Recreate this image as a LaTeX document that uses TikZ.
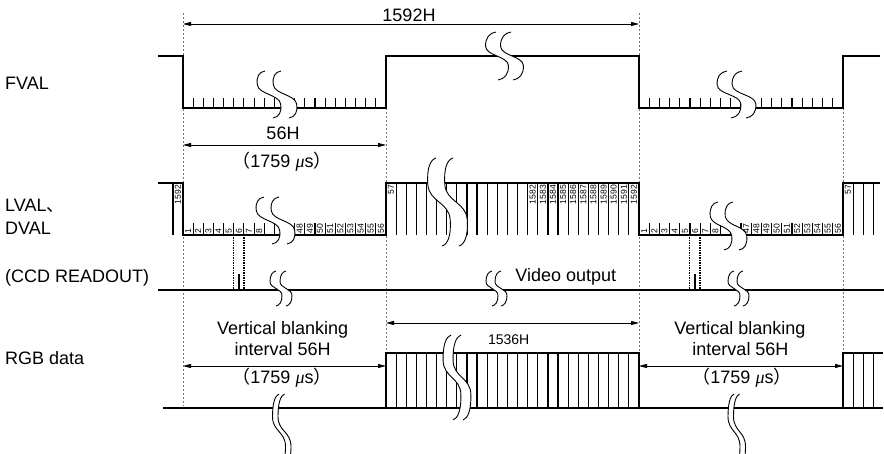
\documentclass[tikz,border=0pt]{standalone}
\usepackage{fontspec}
\setmainfont{Liberation Sans}
\newfontfamily\cjk{Noto Sans CJK JP}
\newfontfamily\muf{Liberation Serif}
\usetikzlibrary{arrows.meta}
\newcommand\lab{\fontsize{18}{21}\selectfont}
\newcommand\labs{\fontsize{14}{16}\selectfont}
\newcommand\numf{\fontsize{8.6}{9}\selectfont}
\newcommand\mus{{\cjk （}1759 {\muf\itshape μ}s{\cjk ）}}
% S-shaped break curve: cx, y0, h, amplitude, tilt
\newcommand\SP[5]{({#1-0.5*#5},{#2}) .. controls ({#1-0.6*#4-0.48*#5},{#2+0.02*#3}) and ({#1-#4-0.38*#5},{#2+0.12*#3}) .. ({#1-#4-0.2*#5},{#2+0.3*#3}) .. controls ({#1-#4},{#2+0.5*#3}) and ({#1+#4},{#2+0.5*#3}) .. ({#1+#4+0.2*#5},{#2+0.7*#3}) .. controls ({#1+#4+0.38*#5},{#2+0.88*#3}) and ({#1+0.6*#4+0.48*#5},{#2+0.98*#3}) .. ({#1+0.5*#5},{#2+#3})}
\newcommand\SPR[5]{-- ({#1+0.5*#5},{#2+#3}) .. controls ({#1+0.6*#4+0.48*#5},{#2+0.98*#3}) and ({#1+#4+0.38*#5},{#2+0.88*#3}) .. ({#1+#4+0.2*#5},{#2+0.7*#3}) .. controls ({#1+#4},{#2+0.5*#3}) and ({#1-#4},{#2+0.5*#3}) .. ({#1-#4-0.2*#5},{#2+0.3*#3}) .. controls ({#1-#4-0.38*#5},{#2+0.12*#3}) and ({#1-0.6*#4-0.48*#5},{#2+0.02*#3}) .. ({#1-0.5*#5},{#2})}
% break: cx, y0, h, amplitude, gap, tilt
\newcommand\brk[6]{%
  \fill[white] \SP{#1}{#2}{#3}{#4}{#6} \SPR{#1+#5}{#2}{#3}{#4}{#6} -- cycle;
  \draw[brkl] \SP{#1}{#2}{#3}{#4}{#6};
  \draw[brkl] \SP{#1+#5}{#2}{#3}{#4}{#6};
}
\tikzset{
  sig/.style={line width=2.1pt, line join=miter},
  hatch/.style={line width=1.2pt},
  tickl/.style={line width=1.1pt},
  guide/.style={draw=black!55, line width=0.8pt, dash pattern=on 2pt off 2pt},
  dotk/.style={line width=1.2pt, dash pattern=on 1.5pt off 1pt},
  pulse/.style={line width=1.5pt},
  dim/.style={line width=0.8pt, arrows={Triangle[length=8pt,width=4pt]-Triangle[length=8pt,width=4pt]}},
  brkl/.style={line width=0.9pt},
  lbl/.style={font=\lab, inner sep=0pt},
  num/.style={font=\numf, rotate=90, inner sep=0pt},
}
\begin{document}
\begin{tikzpicture}[x=1pt,y=-1pt]
\useasboundingbox (0,0) rectangle (884,454);

% guide lines
\draw[guide] (183,13) -- (183,406);
\draw[guide] (386,108) -- (386,353);
\draw[guide] (639,13) -- (639,353);
\draw[guide] (843,108) -- (843,353);

% FVAL
\draw[sig] (158,56) -- (183,56) -- (183,108) -- (386,108) -- (386,56) -- (639,56) -- (639,108) -- (843,108) -- (843,56) -- (880,56);
\foreach \k in {1,...,19} {
  \draw[tickl] ({183+\k*10.15},108) -- ++(0,-10);
  \draw[tickl] ({639+\k*10.2},108) -- ++(0,-10);
}

% LVAL / DVAL
\draw[sig] (158,183) -- (183,183) -- (183,235) -- (386,235) -- (386,183) -- (639,183) -- (639,235) -- (843,235) -- (843,183) -- (880,183);
\draw[hatch] (173,183) -- (173,235);
\foreach \k in {1,...,24} \draw[hatch] ({386+\k*10.12},183) -- ++(0,52);
\foreach \k in {1,2,3} \draw[hatch] ({843+\k*10.2},183) -- ++(0,52);
\foreach \k in {1,...,19} {
  \draw[tickl] ({183+\k*10.15},235) -- ++(0,-12);
  \draw[tickl] ({639+\k*10.2},235) -- ++(0,-12);
}
\foreach \n in {1,...,8} {
  \node[num,anchor=west] (la\n) at ({183+(\n-0.5)*10.15},233.5) {\n};
  \node[num,anchor=west] (lb\n) at ({639+(\n-0.5)*10.2},233.5) {\n};
}
\foreach \n in {47,...,56} {
  \node[num,anchor=west] (la\n) at ({183+(\n-36.5)*10.15},233.5) {\n};
  \node[num,anchor=west] (lb\n) at ({639+(\n-36.5)*10.2},233.5) {\n};
}
\node[num,anchor=east] (h0) at (178,185) {1592};
\node[num,anchor=east] (h57) at (391,185) {57};
\foreach \n in {1582,...,1592}
  \node[num,anchor=east] (h\n) at ({386+(\n-1567.5)*10.12},185) {\n};
\node[num,anchor=east] (h57b) at (848,185) {57};

% CCD readout
\draw[sig] (158,290) -- (884,290);
\draw[dotk] (233.8,235) -- (233.8,290);
\draw[dotk] (243.9,235) -- (243.9,290);
\draw[pulse] (239,274) -- (239,290);
\draw[dotk] (689.8,235) -- (689.8,290);
\draw[dotk] (700,235) -- (700,290);
\draw[pulse] (695,274) -- (695,290);

% RGB data
\draw[sig] (163,408) -- (883,408);
\draw[sig] (386,408) -- (386,353) -- (639,353) -- (639,408);
\draw[sig] (843,408) -- (843,353) -- (883,353);
\foreach \k in {1,...,24} \draw[hatch] ({386+\k*10.12},353) -- ++(0,55);
\foreach \k in {1,2,3} \draw[hatch] ({843+\k*10.2},353) -- ++(0,55);

% breaks
\brk{269}{71}{47}{10}{16}{8}
\brk{497}{32}{48}{11}{15}{2}
\brk{729}{71}{47}{11}{15}{4}
\brk{268}{197}{47}{10}{15}{8}
\brk{439}{158}{88}{10}{17}{6}
\brk{721}{202}{48}{9.5}{15}{6}
\brk{276}{271}{35}{6}{10}{0}
\brk{492}{271}{35}{6}{9}{0}
\brk{734}{271}{35}{6}{9}{0}
\brk{279}{394}{75}{6.5}{5.5}{0}
\brk{452}{335}{85}{8.5}{10}{2}
\brk{734}{394}{75}{6}{5.5}{0}

% dimensions
\draw[dim] (183,24) -- (639,24);
\node[lbl,anchor=base] (t1592) at (409,21.7) {1592H};
\draw[dim] (183,145) -- (386,145);
\node[lbl,anchor=base] (t56) at (283,140) {56H};
\node[lbl,anchor=base] (t1759a) at (282,167.7) {\mus};
\draw[dim] (386,323) -- (639,323);
\node[lbl,anchor=base,font=\labs] (t1536) at (508.7,345) {1536H};
\draw[dim] (183,366) -- (386,366);
\draw[dim] (639,366) -- (843,366);
\node[lbl,anchor=base] (vb1) at (282.7,334.3) {Vertical blanking};
\node[lbl,anchor=base] (vi1) at (282.7,356) {interval 56H};
\node[lbl,anchor=base] (vm1) at (282,384) {\mus};
\node[lbl,anchor=base] (vb2) at (740,334.3) {Vertical blanking};
\node[lbl,anchor=base] (vi2) at (740.5,356) {interval 56H};
\node[lbl,anchor=base] (vm2) at (742,384) {\mus};
\node[lbl,anchor=base] (vid) at (565.8,281.7) {Video output};

% row labels
\node[lbl,anchor=base west] (fval) at (5,90) {FVAL};
\node[lbl,anchor=base west] (lval) at (5,211.7) {LVAL{\cjk 、}};
\node[lbl,anchor=base west] (dval) at (5,235) {DVAL};
\node[lbl,anchor=base west] (ccd) at (5,282.7) {(CCD READOUT)};
\node[lbl,anchor=base west] (rgb) at (5,364.5) {RGB data};
\end{tikzpicture}
\end{document}
